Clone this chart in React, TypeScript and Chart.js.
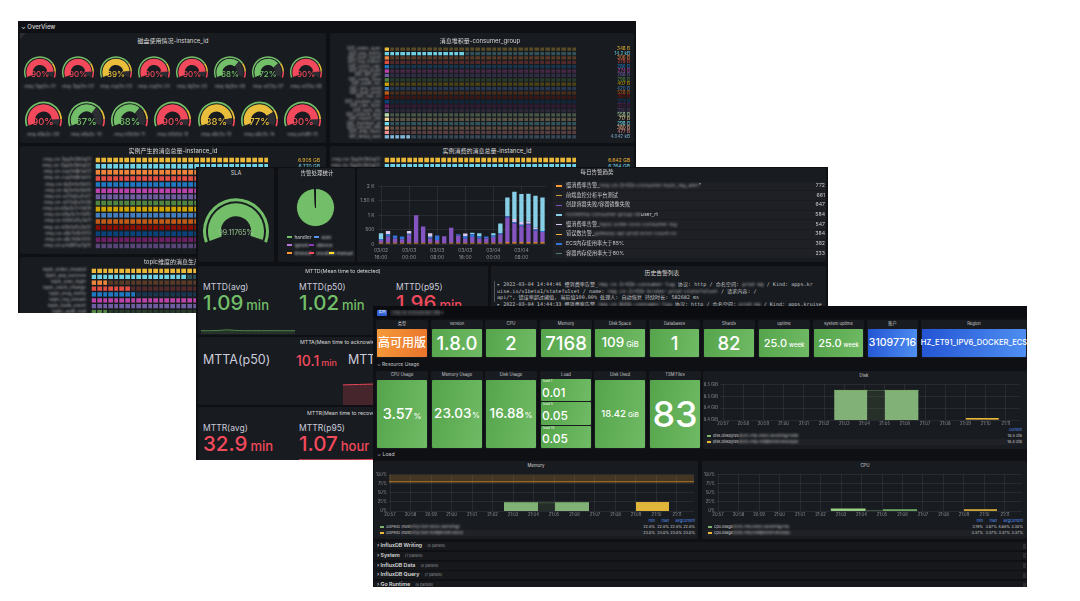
import React, { useEffect, useRef } from "react";
import { Chart, registerables } from "chart.js";

Chart.register(...registerables);

const FONT = "Inter, 'Noto Sans CJK SC', Roboto, sans-serif";
const MONO = "'DejaVu Sans Mono', 'Noto Sans CJK SC', monospace";
Chart.defaults.font.family = FONT;

const DASH_BG = "#0f1014";
const PANEL_BG = "#181b1f";
const GREEN = "#73BF69";
const YELLOW = "#E9BE3C";
const RED = "#F2495C";
const TICK = "#8e8f94";
const GRID = "rgba(204,204,220,0.09)";

// ---------------- data: dashboard A ----------------
const gaugeRow1 = [90, 90, 89, 90, 90, 68, 72, 90];
const gaugeRow2 = [90, 67, 68, 90, 88, 77, 90];
const gaugeThresholds = [75, 90, 100];
const gaugeNames1 = ["rmq-7pp2n-01", "rmq-7pp2n-02", "rmq-zvp2n-03", "rmq-zvp2n-04", "rmq-lbj2m-05", "rmq-lbj2m-06", "rmq-st22q-07", "rmq-st22q-08"];
const gaugeNames2 = ["rmq-k9a3c-09", "rmq-k9a3c-10", "rmq-h2b5d-11", "rmq-h2b5d-12", "rmq-x8c7e-13", "rmq-x8c7e-14", "rmq-p4d9f-15"];

const classic = ["#7EB26D", "#EAB839", "#6ED0E0", "#EF843C", "#E24D42", "#1F78C1", "#BA43A9", "#705DA0", "#508642", "#CCA300", "#447EBC", "#C15C17", "#890F02", "#0A437C", "#6D1F62", "#584477", "#B7DBAB", "#F4D598", "#70DBED", "#F9BA8F", "#F29191", "#82B5D8"];

const consumerGroups = ["GID_order_sync", "GID_pay_notify", "GID_user_event", "GID_log_collect", "GID_stock_calc", "GID_msg_push", "GID_bill_gen", "GID_trade_flow", "GID_audit_rec", "GID_sms_send", "GID_mail_send", "GID_risk_ctl", "GID_coupon_use", "GID_cart_sync", "GID_item_idx", "GID_search_upd", "GID_report_job", "GID_member_pt", "GID_refund_chk", "GID_ship_trace", "GID_delay_task"];
const consumerKB = [0.348, 14.2, 0.306, 0.279, 0.286, 0.274, 0.288, 0.298, 0.407, 0.42, 0.528, 0.367, 0.373, 0.322, 0.33, 0.558, 0.717, 0.298, 0.38, 0.477, 4.042];
const consumerLabels = ["348 B", "14.2 kB", "306 B", "279 B", "286 B", "274 B", "288 B", "298 B", "407 B", "420 B", "528 B", "367 B", "373 B", "322 B", "330 B", "558 B", "717 B", "298 B", "380 B", "477 B", "4.042 kB"];

const producedNames = ["rmq-cn-7pp2n3h0q01", "rmq-cn-7pp2n3h0q02", "rmq-cn-zvp2n8k1a03", "rmq-cn-zvp2n8k1a04", "rmq-cn-lbj2m1e5b05", "rmq-cn-lbj2m1e5b06", "rmq-cn-st22q5u7c07", "rmq-cn-st22q5u7c08", "rmq-cn-k9a3c2x1d09", "rmq-cn-k9a3c2x1d10", "rmq-cn-h2b5d7y3e11", "rmq-cn-h2b5d7y3e12", "rmq-cn-x8c7e9z5f13", "rmq-cn-x8c7e9z5f14", "rmq-cn-p4d9f1w7g15"];
const producedGB = [6.905, 6.77, 6.741, 6.716, 6.702, 6.688, 6.671, 6.652, 6.634, 6.611, 6.592, 6.573, 6.551, 6.532, 6.514];
const consumedGB = [6.642, 6.764, 6.731, 6.705, 6.69, 6.672, 6.655, 6.638, 6.62, 6.601, 6.584, 6.566, 6.548, 6.529, 6.51];
const topicNames = ["topic_order_created", "topic_pay_success", "topic_user_login", "topic_stock_change", "topic_msg_notify", "topic_log_stream", "topic_trade_event", "topic_audit_trail"];
const topicValues = [32, 16.6, 2.7, 6.8, 7.6, 32, 24.5, 2.5];

// ---------------- data: dashboard B ----------------
const slaValue = 99.11765;
const pieLabels = ["handler", "auto", "ignore", "silence", "timeout", "escalate", "manual"];
const pieValues = [1992, 2, 1, 1, 1, 1, 1];
const pieColors = ["#73BF69", "#5794F2", "#B877D9", "#8F3BB8", "#FF9830", "#F2495C", "#FADE2A"];

const trendTimes = ["03/02 16:00", "03/02 18:00", "03/02 20:00", "03/02 22:00", "03/03 00:00", "03/03 02:00", "03/03 04:00", "03/03 06:00", "03/03 08:00", "03/03 10:00", "03/03 12:00", "03/03 14:00", "03/03 16:00", "03/03 18:00", "03/03 20:00", "03/03 22:00", "03/04 00:00", "03/04 02:00", "03/04 04:00", "03/04 06:00", "03/04 08:00", "03/04 10:00", "03/04 12:00", "03/04 14:00"];
const trendOrange = [40, 40, 40, 40, 40, 40, 40, 40, 40, 30, 40, 40, 40, 40, 40, 40, 40, 40, 60, 60, 60, 60, 60, 60];
const trendPurple = [100, 220, 150, 120, 280, 950, 560, 150, 100, 240, 520, 250, 140, 200, 150, 160, 200, 300, 850, 650, 550, 600, 400, 350];
const trendBlue = [30, 80, 100, 100, 30, 0, 0, 60, 150, 0, 0, 50, 100, 100, 80, 60, 50, 40, 50, 50, 50, 40, 50, 40];
const trendLavender = [0, 110, 0, 0, 100, 0, 0, 120, 0, 0, 0, 0, 80, 0, 0, 0, 0, 0, 0, 100, 100, 80, 50, 0];
const trendCyan = [200, 0, 0, 0, 0, 0, 0, 0, 0, 0, 0, 0, 0, 50, 100, 0, 80, 330, 640, 940, 960, 950, 1100, 1150];
const trendTickValues = [0, 500, 1000, 1500, 2000];
const trendTickLabels = ["0", "500", "1 K", "1.50 K", "2 K"];
const trendLegendNames = [
  ["慢消费率告警_", "rmq-cn-2r42b-consumer-topic_lag_alert", "\""],
  ["前端监控分析平台测试", "", ""],
  ["创建容器失败/容器镜像失败", "", ""],
  ["", "rocketmq-consumer-group-lat", "user_rt"],
  ["慢消费率告警_", "topic-order-xxxx-consumer-lag", ""],
  ["错误数告警_", "gateway-api-prod-error-count-xx", ""],
  ["ECS内存使用率大于85%", "", ""],
  ["容器内存使用率大于80%", "", ""],
];
const trendLegendTotals = [772, 661, 647, 584, 547, 384, 382, 233];
const trendLegendColors = ["#FF9830", "#C9A43B", "#8454C0", "#86CFE6", "#D9C8F0", "#F2B33D", "#3274D9", "#4E7C7A"];

const mttdSpark = [1.0, 1.0, 1.05, 1.25, 1.1, 1.0, 1.0, 1.0, 1.02, 1.0, 1.0, 1.0];
const mttaSpark = [8.2, 8.4, 8.6, 8.8, 9.0, 9.2, 9.5, 9.8, 10.1];
const mttrSpark = [0.1, 0.1, 0.1, 0.2, 0.6, 1.3, 2.0, 2.6, 3.0, 3.3];

// ---------------- data: dashboard C ----------------
const statTitles1 = ["类型", "version", "CPU", "Memory", "Disk Space", "Databases", "Shards", "uptime", "system uptime", "账户", "Region"];
const statValues1 = ["高可用版", "1.8.0", "2", "7168", "109", "1", "82", "25.0", "25.0", "31097716", "HZ_ET91_IPV6_DOCKER_ECS"];
const statUnits1 = ["", "", "", "", "GiB", "", "", "week", "week", "", ""];
const statKinds1 = ["orange", "green", "green", "green", "green", "green", "green", "green", "green", "blue", "blue"];
const statTitles2 = ["CPU Usage", "Memory Usage", "Disk Usage", "Load", "Disk Used", "TSM Files"];
const statValues2 = ["3.57", "23.03", "16.88", "", "18.42", "83"];
const statUnits2 = ["%", "%", "%", "", "GiB", ""];
const loadTitles = ["load 1", "load 5", "load 15"];
const loadValues = ["0.01", "0.05", "0.05"];

const timeTicks = ["20:57", "20:58", "20:59", "21:00", "21:01", "21:02", "21:03", "21:04", "21:05", "21:06", "21:07", "21:08", "21:09", "21:10", "21:11"];
const diskGreen = [{ x: 5.5, y: 18.47 }, { x: 7.15, y: 18.47 }, { x: 7.16, y: null }, { x: 8.0, y: 18.47 }, { x: 9.68, y: 18.47 }];
const diskGap = [{ x: 7.15, y: 18.47 }, { x: 8.0, y: 18.47 }];
const diskYellow = [{ x: 12.02, y: 18.422 }, { x: 13.65, y: 18.422 }];
const memThreshold = 80;
const memGreen = [{ x: 5.56, y: 22.6 }, { x: 7.22, y: 22.6 }, { x: 7.23, y: null }, { x: 8.05, y: 22.6 }, { x: 9.71, y: 22.6 }];
const memGap = [{ x: 7.22, y: 22.6 }, { x: 8.05, y: 22.6 }];
const memYellow = [{ x: 12.0, y: 23.0 }, { x: 13.61, y: 23.0 }];
const cpuGreen1 = [{ x: 5.5, y: 4.6 }, { x: 7.2, y: 4.6 }];
const cpuGap = [{ x: 7.2, y: 1.5 }, { x: 8.05, y: 1.5 }];
const cpuGreen2 = [{ x: 8.05, y: 3.3 }, { x: 9.71, y: 3.3 }];
const cpuYellow = [{ x: 12.0, y: 3.37 }, { x: 13.61, y: 3.37 }];
const memLegend = [["OXPKID (host)", "rmq-host-a1b2c3d4e5f6g7"], ["OXPKID (host)", "rmq-host-h8i9j0k1l2m3n4o5"]];
const memLegendVals = [["22.6%", "22.6%", "22.6%", "22.6%"], ["23.0%", "23.0%", "23.0%", "23.0%"]];
const cpuLegend = [["cpu.usage", "(host=rmq-a1b2c3d4e5f6g7h8)"], ["cpu.usage", "(host=rmq-h8i9j0k1l2m3n4o5p)"]];
const cpuLegendVals = [["3.19%", "3.87%", "4.86%", "3.30%"], ["3.37%", "3.37%", "3.37%", "3.37%"]];
const collapsedRows = [["InfluxDB Writing", "(5 panels)"], ["System", "(7 panels)"], ["InfluxDB Data", "(5 panels)"], ["InfluxDB Query", "(7 panels)"], ["Go Runtime", "(6 panels)"]];

// ---------------- helpers ----------------
const base: any = {
  responsive: false,
  animation: false,
  events: [],
  plugins: { legend: { display: false }, tooltip: { enabled: false } },
};

function hexA(hex: string, a: number) {
  const n = parseInt(hex.slice(1), 16);
  return `rgba(${(n >> 16) & 255},${(n >> 8) & 255},${n & 255},${a})`;
}

function levelColor(v: number) {
  return v >= gaugeThresholds[1] ? RED : v >= gaugeThresholds[0] ? YELLOW : GREEN;
}

function ChartBox({ x, y, w, h, make }: any) {
  const ref = useRef<HTMLCanvasElement | null>(null);
  useEffect(() => {
    if (!ref.current) return;
    const chart = new Chart(ref.current, make());
    return () => chart.destroy();
  }, []);
  return (
    <div style={{ position: "absolute", left: x, top: y, width: w, height: h }}>
      <canvas ref={ref} width={w} height={h} style={{ width: w, height: h, display: "block" }} />
    </div>
  );
}

function T({ x, y, s = 6, c = "#d8d9da", a = "l", w = 400, b = 0, f = FONT, children }: any) {
  const tx = a === "c" ? "-50%" : a === "r" ? "-100%" : "0";
  return (
    <div
      style={{
        position: "absolute",
        left: x,
        top: y,
        transform: `translate(${tx},-50%)`,
        fontSize: s,
        color: c,
        fontWeight: w,
        fontFamily: f,
        whiteSpace: "nowrap",
        lineHeight: 1,
        filter: b ? `blur(${b}px)` : undefined,
      }}
    >
      {children}
    </div>
  );
}

function B({ x, y, w, h, bg = PANEL_BG, r = 2, style = {} }: any) {
  return <div style={{ position: "absolute", left: x, top: y, width: w, height: h, background: bg, borderRadius: r, ...style }} />;
}

function Dash({ x, y, w, h, children }: any) {
  return (
    <div style={{ position: "absolute", left: x, top: y, width: w, height: h, overflow: "hidden", background: DASH_BG }}>
      <div style={{ position: "absolute", left: -x, top: -y, width: 1080, height: 601 }}>{children}</div>
    </div>
  );
}

// ---------------- chart configs ----------------
function gaugeConfig(value: number, color: string, bands: number[], bandColors: string[]) {
  return {
    type: "doughnut",
    data: {
      datasets: [
        { data: bands, backgroundColor: bandColors, borderWidth: 0, weight: 1.4 },
        { data: [1], backgroundColor: ["rgba(0,0,0,0)"], borderWidth: 0, weight: 0.9 },
        { data: [value, 100 - value], backgroundColor: [color, "#2c2e34"], borderWidth: 0, weight: 6 },
      ],
    },
    options: { ...base, rotation: -110, circumference: 220, cutout: "46%", layout: { padding: 0 } },
  };
}

function ledConfig(values: number[], max: number, cells: number, colors: string[]) {
  const lit = values.map((v) => Math.min(cells, Math.max(1, Math.ceil((v / max) * cells))));
  return {
    type: "bar",
    data: {
      labels: values.map((_, i) => String(i)),
      datasets: [
        { data: lit, backgroundColor: colors, grouped: false, barPercentage: 0.74, categoryPercentage: 1, borderWidth: 0, order: 0 },
        { data: values.map(() => cells), backgroundColor: colors.map((c) => hexA(c, 0.3)), grouped: false, barPercentage: 0.74, categoryPercentage: 1, borderWidth: 0, order: 1 },
      ],
    },
    options: {
      ...base,
      indexAxis: "y",
      layout: { padding: 0 },
      scales: {
        x: {
          type: "linear",
          min: 0,
          max: cells,
          z: 1,
          ticks: { display: false, stepSize: 1 },
          grid: { color: PANEL_BG, lineWidth: 1.3, drawTicks: false, z: 1 },
          border: { display: false },
        },
        y: { display: false },
      },
    },
  };
}

function trendConfig() {
  const series = [
    { d: trendOrange, c: trendLegendColors[0] },
    { d: trendPurple, c: trendLegendColors[2] },
    { d: trendBlue, c: trendLegendColors[6] },
    { d: trendLavender, c: trendLegendColors[4] },
    { d: trendCyan, c: trendLegendColors[3] },
  ];
  return {
    type: "bar",
    data: {
      labels: trendTimes,
      datasets: series.map((s) => ({ data: s.d, backgroundColor: s.c, barPercentage: 0.62, categoryPercentage: 1, borderWidth: 0 })),
    },
    options: {
      ...base,
      layout: { padding: { top: 5, right: 4, left: 0, bottom: 0 } },
      scales: {
        x: {
          stacked: true,
          grid: { offset: false, color: (ctx: any) => (ctx.index % 4 === 0 ? GRID : "rgba(0,0,0,0)"), drawTicks: false },
          border: { display: false },
          ticks: {
            autoSkip: false,
            maxRotation: 0,
            minRotation: 0,
            padding: 3,
            font: { size: 5, lineHeight: 1.4 },
            color: TICK,
            callback: (_v: any, i: number) => (i % 4 === 0 ? trendTimes[i].split(" ") : ""),
          },
          afterFit: (s: any) => {
            s.height = 18;
          },
        },
        y: {
          stacked: true,
          min: 0,
          max: 2000,
          grid: { color: GRID, drawTicks: false },
          border: { display: false },
          ticks: {
            stepSize: 500,
            padding: 3,
            font: { size: 5 },
            color: TICK,
            callback: (v: any) => trendTickLabels[trendTickValues.indexOf(v)] ?? "",
          },
          afterFit: (s: any) => {
            s.width = 20.5;
          },
        },
      },
    },
  };
}

function pieConfig() {
  return {
    type: "pie",
    data: { labels: pieLabels, datasets: [{ data: pieValues, backgroundColor: pieColors, borderColor: "#15171b", borderWidth: 0.9 }] },
    options: { ...base, layout: { padding: 0 } },
  };
}

function sparkConfig(data: number[], color: string, fill: string, min: number, max: number) {
  return {
    type: "line",
    data: {
      labels: data.map((_, i) => String(i)),
      datasets: [{ data, borderColor: color, borderWidth: 1, backgroundColor: fill, fill: "start", pointRadius: 0, tension: 0.2 }],
    },
    options: { ...base, layout: { padding: 0 }, scales: { x: { display: false }, y: { display: false, min, max } } },
  };
}

function tsConfig(datasets: any[], o: any) {
  return {
    type: "line",
    data: { datasets },
    options: {
      ...base,
      layout: { padding: { top: o.padTop, right: o.padRight, left: 0, bottom: 0 } },
      elements: { point: { radius: 0 }, line: { tension: 0 } },
      scales: {
        x: {
          type: "linear",
          min: o.xmin,
          max: o.xmax,
          grid: { color: GRID, drawTicks: false },
          border: { display: false },
          ticks: {
            stepSize: 1,
            includeBounds: false,
            autoSkip: false,
            maxRotation: 0,
            padding: 1.5,
            font: { size: 4.2 },
            color: TICK,
            callback: (v: any) => timeTicks[Math.round(v)] ?? "",
          },
          afterFit: (s: any) => {
            s.height = 6;
          },
        },
        y: {
          min: o.ymin,
          max: o.ymax,
          grid: { color: GRID, drawTicks: false },
          border: { display: false },
          ticks: { stepSize: o.ystep, includeBounds: false, padding: 2, font: { size: 4.2 }, color: TICK, callback: o.yfmt },
          afterFit: (s: any) => {
            s.width = o.yWidth;
          },
        },
      },
    },
  };
}

function area(data: any[], border: string, fill: string, width = 1) {
  return { data, borderColor: border, backgroundColor: fill, borderWidth: width, fill: "start", pointRadius: 0, spanGaps: false };
}

// ---------------- pieces ----------------
function GaugeCell({ cx, top, r, v, name, fs, labelY }: any) {
  const w = Math.round(2 * r);
  const h = Math.round(r * 1.34) + 1;
  const col = levelColor(v);
  const bands = [gaugeThresholds[0], gaugeThresholds[1] - gaugeThresholds[0], gaugeThresholds[2] - gaugeThresholds[1]];
  return (
    <>
      <ChartBox x={cx - w / 2} y={top} w={w} h={h} make={() => gaugeConfig(v, col, bands, [GREEN, YELLOW, RED])} />
      <T x={cx} y={top + r + 2} s={fs} a="c" c={col} w={500}>
        {v}%
      </T>
      <T x={cx} y={labelY} s={4.6} a="c" c="#a5a6aa" b={0.8}>
        {name}
      </T>
    </>
  );
}

function LedBlock({ x, y, w, h, values, max, cells, colors, names, nameR, labels, valueX, vs = 5 }: any) {
  const n = values.length;
  const rh = h / n;
  return (
    <>
      <ChartBox x={x} y={y} w={w} h={h} make={() => ledConfig(values, max, cells, colors)} />
      {names.map((nm: string, i: number) => (
        <T key={"n" + i} x={nameR} y={y + (i + 0.5) * rh} s={4.6} a="r" c="#b0b1b5" b={0.9}>
          {nm}
        </T>
      ))}
      {labels &&
        labels.map((lb: string, i: number) => (
          <T key={"v" + i} x={valueX} y={y + (i + 0.5) * rh} s={vs} a="r" c={colors[i]}>
            {lb}
          </T>
        ))}
    </>
  );
}

function DashA() {
  return (
    <Dash x={18} y={21} w={618} h={292}>
      <T x={21} y={26.5} s={6} w={500}>
        ⌄ OverView
      </T>
      {/* gauges */}
      <B x={20} y={33} w={306} h={110} />
      <div style={{ position: "absolute", left: 20, top: 33, width: 0, height: 0, borderTop: "6px solid #2a2c31", borderRight: "6px solid transparent" }} />
      <T x={173} y={40.5} s={6} a="c">
        磁盘使用情况-instance_id
      </T>
      {gaugeRow1.map((v, i) => (
        <GaugeCell key={"g1" + i} cx={40 + i * 38} top={56} r={16} v={v} name={gaugeNames1[i]} fs={8} labelY={86.5} />
      ))}
      {gaugeRow2.map((v, i) => (
        <GaugeCell key={"g2" + i} cx={43 + i * 43.3} top={101} r={18.5} v={v} name={gaugeNames2[i]} fs={9.5} labelY={135} />
      ))}

      {/* consumer group */}
      <B x={330} y={33} w={304} h={110} />
      <T x={480} y={40.5} s={6} a="c">
        消息堆积量-consumer_group
      </T>
      <LedBlock
        x={384}
        y={47}
        w={193}
        h={92}
        values={consumerKB}
        max={36}
        cells={36}
        colors={classic.slice(1, 22)}
        names={consumerGroups}
        nameR={381}
        labels={consumerLabels}
        valueX={630}
        vs={4.6}
      />

      {/* produced */}
      <B x={20} y={146} w={306} h={108} />
      <T x={173} y={151} s={6} a="c">
        实例产生的消息总量-instance_id
      </T>
      <LedBlock
        x={95}
        y={157}
        w={174}
        h={92}
        values={producedGB}
        max={6.4}
        cells={30}
        colors={classic.slice(1, 16)}
        names={producedNames}
        nameR={91}
        labels={producedGB.map((v) => v.toFixed(3) + " GB")}
        valueX={320}
        vs={5}
      />

      {/* consumed */}
      <B x={330} y={146} w={304} h={108} />
      <T x={487} y={151} s={6} a="c">
        实例消费的消息总量-instance_id
      </T>
      <LedBlock
        x={384}
        y={157}
        w={193}
        h={92}
        values={consumedGB}
        max={6.4}
        cells={34}
        colors={classic.slice(1, 16)}
        names={producedNames}
        nameR={380}
        labels={consumedGB.map((v) => v.toFixed(3) + " GB")}
        valueX={630}
        vs={5}
      />

      {/* topic */}
      <B x={20} y={257} w={306} h={60} />
      <T x={175} y={262} s={6} a="c">
        topic维度的消息生产量
      </T>
      <LedBlock
        x={91}
        y={267.5}
        w={180}
        h={47.2}
        values={topicValues}
        max={32}
        cells={32}
        colors={classic.slice(1, 9)}
        names={topicNames}
        nameR={86}
      />
    </Dash>
  );
}

function StatBig({ x, y, label, value, unit, color, ls = 8.5, vs = 20.5, us = 13 }: any) {
  return (
    <>
      <T x={x} y={y} s={ls} c="#ccccdc">
        {label}
      </T>
      <T x={x} y={y + 15.5} s={vs} c={color} w={500}>
        {value}
        <span style={{ fontSize: us, marginLeft: 3 }}>{unit}</span>
      </T>
    </>
  );
}

function DashB() {
  const legendTop = 186;
  const legendStep = 9.67;
  return (
    <Dash x={196} y={167} w={632} h={293}>
      {/* SLA */}
      <B x={198} y={168} w={76} h={94} />
      <T x={236} y={173.5} s={5.5} a="c">
        SLA
      </T>
      <ChartBox x={203} y={198} w={66} h={45} make={() => gaugeConfig(slaValue, GREEN, [100], [GREEN])} />
      <T x={236} y={232} s={7} a="c" c="#9cc98f">
        {slaValue}%
      </T>

      {/* pie */}
      <B x={278} y={168} w={77} h={94} />
      <T x={317} y={173.5} s={5.5} a="c">
        告警处理统计
      </T>
      <ChartBox x={296} y={188} w={39} h={39} make={pieConfig} />
      {[
        [0, 287, 237],
        [1, 314, 237],
        [2, 287, 245],
        [3, 309, 245],
        [4, 287, 253],
        [5, 309, 253],
        [6, 329, 253],
      ].map(([i, sx, sy]) => (
        <React.Fragment key={"pl" + i}>
          <B x={sx} y={sy - 0.8} w={5} h={1.6} bg={pieColors[i]} r={0} />
          <T x={sx + 7.5} y={sy} s={4.8} c="#c8c9cc" b={i === 0 ? 0 : 0.9}>
            {pieLabels[i]}
          </T>
        </React.Fragment>
      ))}

      {/* trend */}
      <B x={357} y={168} w={469} h={94} />
      <T x={597} y={172.5} s={5.5} a="c">
        每日告警趋势
      </T>
      <ChartBox x={357} y={180} w={193} h={82} make={trendConfig} />
      {trendLegendNames.map((nm, i) => {
        const y = legendTop + i * legendStep;
        return (
          <React.Fragment key={"tl" + i}>
            <B x={553} y={y - 4.2} w={273} h={8.4} bg="#1e2025" r={0} />
            <B x={556} y={y - 0.8} w={6} h={1.6} bg={trendLegendColors[i]} r={0} />
            <T x={566} y={y} s={5.2} c="#c8c9cc">
              {nm[0]}
              {nm[1] && <span style={{ filter: "blur(1px)", color: "#9a9ba0" }}>{nm[1]}</span>}
              {nm[2]}
            </T>
            <T x={825} y={y} s={5.2} a="r" c="#c8c9cc">
              {trendLegendTotals[i]}
            </T>
          </React.Fragment>
        );
      })}

      {/* MTTD */}
      <B x={198} y={266} w={290} h={69} />
      <T x={343} y={272} s={5.3} a="c">
        MTTD(Mean time to detected)
      </T>
      <StatBig x={203} y={287} label="MTTD(avg)" value="1.09" unit="min" color={GREEN} />
      <StatBig x={299} y={287} label="MTTD(p50)" value="1.02" unit="min" color={GREEN} />
      <StatBig x={396} y={287} label="MTTD(p95)" value="1.96" unit="min" color={RED} />
      <ChartBox x={201} y={324} w={94} h={10} make={() => sparkConfig(mttdSpark, "#4f8a47", "rgba(115,191,105,0.15)", 0, 3)} />

      {/* MTTA */}
      <B x={198} y={337} w={290} h={68} />
      <T x={343} y={343} s={5.3} a="c">
        MTTA(Mean time to acknowledge)
      </T>
      <T x={203} y={360} s={12.5} c="#ccccdc">
        MTTA(p50)
      </T>
      <T x={296} y={361} s={14} c={RED} w={500}>
        10.1<span style={{ fontSize: 9, marginLeft: 2 }}>min</span>
      </T>
      <T x={348} y={360} s={12.5} c="#ccccdc">
        MTTA(p95)
      </T>
      <ChartBox x={343} y={378} w={145} h={27} make={() => sparkConfig(mttaSpark, RED, "rgba(242,73,92,0.22)", 0, 11)} />

      {/* MTTR */}
      <B x={198} y={407} w={290} h={53} />
      <T x={343} y={414} s={5.3} a="c">
        MTTR(Mean time to recover)
      </T>
      <StatBig x={203} y={428} label="MTTR(avg)" value="32.9" unit="min" color={RED} />
      <StatBig x={299} y={428} label="MTTR(p95)" value="1.07" unit="hour" color={RED} />
      <ChartBox x={299} y={446} w={189} h={14} make={() => sparkConfig(mttrSpark, RED, "rgba(242,73,92,0.22)", 0, 8)} />

      {/* history list */}
      <B x={491} y={266} w={335} h={192} />
      <T x={662} y={272.5} s={5.8} a="c">
        历史告警列表
      </T>
      <B x={494} y={281} w={1} h={21} bg="#55575c" r={0} />
      <T x={497} y={285} s={5.1} f={MONO} c="#c3c4c8">
        ▸ 2022-03-04 14:44:46  慢消费率告警_<span style={{ filter: "blur(1px)" }}>rmq-cn-2r42b-consumer-lag</span> 协议: http / 命名空间: <span style={{ filter: "blur(1px)" }}>prod-mq</span> / Kind: apps.kr
      </T>
      <T x={497} y={291.5} s={5.1} f={MONO} c="#c3c4c8">
        uise.io/v1beta1/statefulset / name: <span style={{ filter: "blur(1px)" }}>rmq-cn-2r42b-broker-prod-statefulset</span> / 请求内容: /
      </T>
      <T x={497} y={298} s={5.1} f={MONO} c="#c3c4c8">
        api/*, 错误率超过阈值, 当前值100.00%   处理人: 自动恢复   持续时长: 582682 ms
      </T>
      <T x={497} y={304.5} s={5.1} f={MONO} c="#c3c4c8">
        ▸ 2022-03-04 14:44:33  慢消费率告警_<span style={{ filter: "blur(1px)" }}>rmq-cn-8d1k-consumer-lag</span> 协议: http / 命名空间: <span style={{ filter: "blur(1px)" }}>prod-mq</span> / Kind: apps.kruise
      </T>
    </Dash>
  );
}

const GRAD: any = {
  green: "linear-gradient(100deg, #55a44b 0%, #6fbb65 100%)",
  orange: "linear-gradient(100deg, #f59a3a 0%, #e9732b 100%)",
  blue: "linear-gradient(100deg, #2354d4 0%, #4f90f1 100%)",
};

function StatTile({ x, y, w, h, title, value, unit, size, usize, umargin = 2, kind }: any) {
  const th = 8;
  return (
    <>
      <B x={x} y={y} w={w} h={h} />
      <T x={x + w / 2} y={y + 4.3} s={4.2} a="c" c="#c8c9cc">
        {title}
      </T>
      <B x={x + 1} y={y + th + 1} w={w - 2} h={h - th - 2} bg={GRAD[kind]} r={1} />
      {value && (
        <T x={x + w / 2} y={y + th + 1 + (h - th - 2) / 2} s={size} a="c" c="#ffffff" w={500}>
          {value}
          {unit && <span style={{ fontSize: usize, marginLeft: umargin }}>{unit}</span>}
        </T>
      )}
    </>
  );
}

function Legend2({ x, y, w, names, vals, colors, headers, colRight }: any) {
  return (
    <>
      {headers.map((hd: string, j: number) => (
        <T key={"h" + j} x={colRight[j]} y={y} s={3.8} a="r" c="#5794F2">
          {hd}
        </T>
      ))}
      {names.map((nm: string[], i: number) => {
        const ry = y + 6 + i * 6;
        return (
          <React.Fragment key={"r" + i}>
            {i === 1 && <B x={x - 2} y={ry - 2.8} w={w} h={5.6} bg="#1f2126" r={0} />}
            <B x={x} y={ry - 0.7} w={4} h={1.4} bg={colors[i]} r={0} />
            <T x={x + 6} y={ry} s={3.8} c="#c8c9cc">
              {nm[0]}
              <span style={{ filter: "blur(0.9px)" }}>{nm[1]}</span>
            </T>
            {vals[i].map((v: string, j: number) => (
              <T key={"v" + j} x={colRight[j]} y={ry} s={3.8} a="r" c="#c8c9cc">
                {v}
              </T>
            ))}
          </React.Fragment>
        );
      })}
    </>
  );
}

function DashC() {
  const xs1 = [376, 431, 485, 540, 594, 649, 703, 758, 813, 867, 921];
  const ws1 = [52, 52, 52, 52, 52, 51, 52, 52, 51, 51, 106];
  const sizes1 = [12, 18.5, 18.5, 18.5, 13.5, 18.5, 18.5, 11, 11, 10.5, 7.6];
  const usizes1 = [8, 8, 8, 8, 7.5, 8, 8, 6, 6, 8, 8];
  const xs2 = [376, 431, 485, 540, 594, 649];
  const sizes2 = [14.5, 13.5, 13.5, 0, 9.5, 36];
  const usizes2 = [8, 8, 8, 0, 6.5, 0];
  const memX = { xmin: -0.05, xmax: 14.83, ymin: 0, ymax: 100, ystep: 25, yfmt: (v: any) => v + "%", yWidth: 14, padTop: 4, padRight: 3 };
  return (
    <Dash x={373} y={306} w={654} h={281}>
      <B x={373} y={306} w={654} h={12} bg="#0b0c0f" r={0} />
      <B x={377} y={310} w={10} h={6} bg="#2f5fd0" r={1} />
      <T x={382} y={313} s={3.6} a="c" c="#fff">
        实例
      </T>
      <B x={390} y={310} w={50} h={6} bg="#1d1f24" r={1} />
      <T x={393} y={313} s={3.8} c="#8f9094" b={0.8}>
        rmq-cn-2r42b3h0q01-influx
      </T>

      {statTitles1.map((t, i) => (
        <StatTile
          key={"s1" + i}
          x={xs1[i]}
          y={320}
          w={ws1[i]}
          h={38}
          title={t}
          value={statValues1[i]}
          unit={statUnits1[i]}
          size={sizes1[i]}
          usize={usizes1[i]}
          kind={statKinds1[i]}
        />
      ))}

      <T x={377} y={364} s={4.8} c="#c8c9cc">
        ⌄ Resource Usage
      </T>

      {statTitles2.map((t, i) => (
        <StatTile
          key={"s2" + i}
          x={xs2[i]}
          y={371}
          w={52}
          h={78}
          title={t}
          value={i === 3 ? "" : statValues2[i]}
          unit={statUnits2[i]}
          size={sizes2[i]}
          usize={usizes2[i]}
          umargin={statUnits2[i] === "%" ? 0.5 : 2}
          kind="green"
        />
      ))}
      {/* load sub tiles */}
      <B x={541} y={379} w={50} h={69} bg={PANEL_BG} r={0} />
      {loadTitles.map((lt, i) => {
        const ty = 379 + i * 23.3;
        return (
          <React.Fragment key={"ld" + i}>
            <B x={541} y={ty} w={50} h={22.3} bg={GRAD.green} r={1} />
            <T x={543} y={ty + 3} s={3.4} c="#eef5ec">
              {lt}
            </T>
            <T x={542} y={ty + 13.5} s={12} c="#fff" w={500}>
              {loadValues[i]}
            </T>
          </React.Fragment>
        );
      })}

      {/* Disk */}
      <B x={703} y={371} w={324} h={78} />
      <T x={864} y={375.5} s={4.3} a="c">
        Disk
      </T>
      <ChartBox
        x={704}
        y={380}
        w={320}
        h={46}
        make={() =>
          tsConfig(
            [
              area(diskGreen, "#7EB26D", "rgba(140,190,128,0.92)"),
              area(diskGap, "rgba(126,178,109,0.35)", "rgba(126,178,109,0.14)"),
              area(diskYellow, "#EAB839", "rgba(234,184,57,0.25)", 1.5),
            ],
            { xmin: -0.15, xmax: 14.7, ymin: 18.42, ymax: 18.48, ystep: 0.02, yfmt: (v: any) => Number(v).toFixed(1) + " GiB", yWidth: 16, padTop: 4, padRight: 4 }
          )
        }
      />
      <Legend2
        x={707}
        y={430}
        w={318}
        names={[["disk.diskbytes", "(host=rmq-a1b2c3d4e5f6g7h8i9)"], ["disk.diskbytes", "(host=rmq-h8i9j0k1l2m3n4o5p6)"]]}
        vals={[["18.5 GiB"], ["18.4 GiB"]]}
        colors={["#7EB26D", "#EAB839"]}
        headers={["current"]}
        colRight={[1022]}
      />

      <T x={377} y={455} s={5.2} c="#c8c9cc">
        ⌄ Load
      </T>

      {/* Memory */}
      <B x={374} y={461} w={324} h={78} />
      <T x={536} y={466} s={4.3} a="c">
        Memory
      </T>
      <ChartBox
        x={375}
        y={470}
        w={322}
        h={47}
        make={() =>
          tsConfig(
            [
              { data: [{ x: memX.xmin, y: memThreshold }, { x: memX.xmax, y: memThreshold }], borderColor: "#C4862B", borderWidth: 1, fill: false, pointRadius: 0 },
              { data: [{ x: memX.xmin, y: 100 }, { x: memX.xmax, y: 100 }], borderColor: "rgba(0,0,0,0)", borderWidth: 0, backgroundColor: "rgba(196,134,43,0.25)", fill: "-1", pointRadius: 0 },
              area(memGreen, "#7EB26D", "rgba(140,190,128,0.92)"),
              area(memGap, "rgba(126,178,109,0.35)", "rgba(126,178,109,0.12)"),
              area(memYellow, "#EAB839", "rgba(234,190,60,0.95)"),
            ],
            memX
          )
        }
      />
      <Legend2
        x={380}
        y={521}
        w={318}
        names={memLegend}
        vals={memLegendVals}
        colors={["#7EB26D", "#EAB839"]}
        headers={["min", "max", "avg", "current"]}
        colRight={[655, 669, 682, 695]}
      />

      {/* CPU */}
      <B x={702} y={461} w={325} h={78} />
      <T x={865} y={466} s={4.3} a="c">
        CPU
      </T>
      <ChartBox
        x={703}
        y={470}
        w={322}
        h={47}
        make={() =>
          tsConfig(
            [
              area(cpuGreen1, "#9AD283", "rgba(154,210,131,0.95)", 1.5),
              area(cpuGap, "rgba(126,178,109,0.35)", "rgba(126,178,109,0.15)"),
              area(cpuGreen2, "#6FA862", "rgba(111,168,98,0.9)", 1.2),
              area(cpuYellow, "#D9AE3A", "rgba(217,174,58,0.9)", 1.2),
            ],
            memX
          )
        }
      />
      <Legend2
        x={708}
        y={521}
        w={318}
        names={cpuLegend}
        vals={cpuLegendVals}
        colors={["#7EB26D", "#EAB839"]}
        headers={["min", "max", "avg", "current"]}
        colRight={[983, 997, 1010, 1023]}
      />

      {/* collapsed rows */}
      {collapsedRows.map((r, i) => {
        const y = 546 + i * 9.8;
        return (
          <React.Fragment key={"cr" + i}>
            <B x={374} y={y - 4} w={653} h={8} bg="#16181c" r={0} />
            <B x={1023} y={y - 2.5} w={3} h={5} bg="#2a2c31" r={0} />
            <T x={377} y={y} s={5.3} w={600} c="#d8d9da">
              › {r[0]}
              <span style={{ fontSize: 3.8, fontWeight: 400, color: "#8e8f94", marginLeft: 5 }}>{r[1]}</span>
            </T>
          </React.Fragment>
        );
      })}
    </Dash>
  );
}

export default function App() {
  useEffect(() => {
    document.body.style.margin = "0";
  }, []);
  return (
    <div style={{ position: "fixed", left: 0, top: 0, width: 1080, height: 601, background: "#ffffff", overflow: "hidden", fontFamily: FONT }}>
      <DashA />
      <DashB />
      <DashC />
    </div>
  );
}
